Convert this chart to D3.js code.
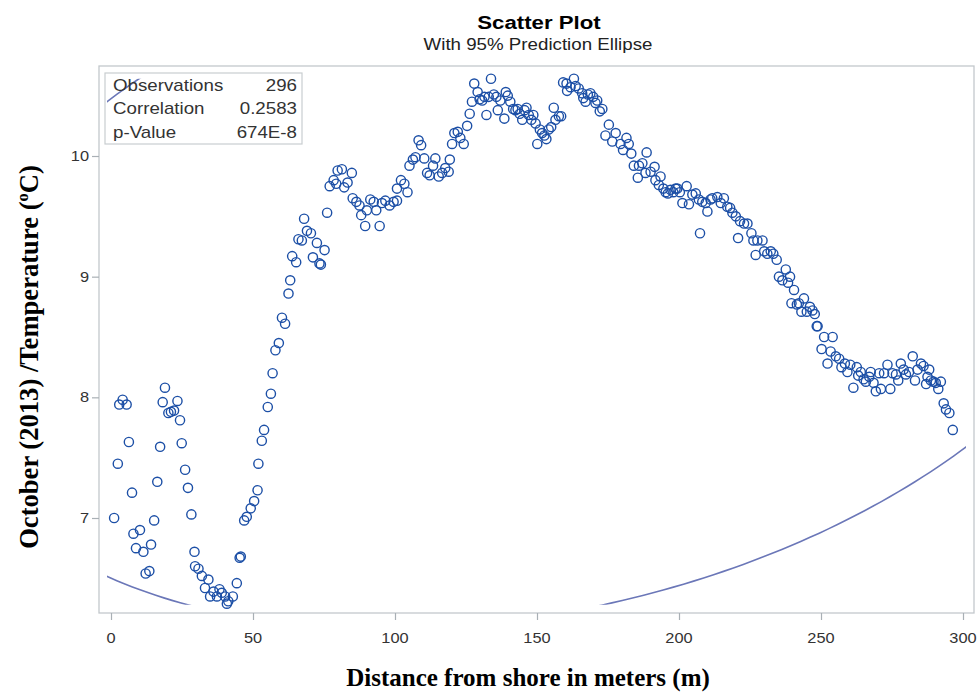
<!DOCTYPE html>
<html>
<head>
<meta charset="utf-8">
<script src="https://cdn.jsdelivr.net/npm/d3@7/dist/d3.min.js"></script>
<style>
  body { margin: 0; background: #fff; }
  text { font-family: "Liberation Sans", Arial, sans-serif; }
</style>
</head>
<body>
<svg id="chart" width="979" height="693"></svg>
<script>
// Distance from shore (m) for each observation
const distance = [
  1.1, 2.4, 2.9, 4.1, 5.5, 6.3, 7.4, 7.9, 8.8, 10.2, 11.4, 12.2, 13.5, 14.1, 15.2, 16.3, 17.3, 18.2, 19.0, 20.2,
  21.1, 22.2, 23.4, 24.3, 24.9, 26.1, 27.1, 28.3, 29.4, 29.6, 30.8, 32.0, 33.1, 34.3, 34.9, 36.1, 37.3, 38.2, 39.0, 40.2,
  40.8, 41.3, 42.9, 44.3, 45.3, 45.7, 46.9, 47.8, 49.2, 50.4, 51.6, 51.9, 53.1, 53.9, 55.2, 56.3, 56.9,
  57.9, 59.1, 60.2, 61.3, 62.5, 63.1, 63.8, 65.2, 66.0, 67.2, 68.0, 69.0, 70.4, 71.1, 72.5, 73.4, 73.9, 75.2, 76.1, 77.0,
  78.4, 79.3, 79.8, 81.3, 82.1, 83.3, 84.8, 85.1, 86.4, 87.5, 88.1, 89.5, 90.1, 91.3, 92.5, 93.4, 94.6, 95.4, 96.6, 98.1,
  99.5, 100.7, 100.7, 102.1, 103.3, 104.4, 105.1, 106.3, 107.2, 108.3, 109.2, 110.3, 111.3, 112.2, 113.4, 114.2, 115.4,
  116.6, 117.7, 118.9, 119.3, 120.1, 120.9, 122.1, 123.0, 124.2, 125.4, 126.3,
  127.1, 127.9, 129.1, 129.8, 130.7, 131.5, 132.2, 133.0, 133.8, 134.8, 135.7, 136.2, 137.1, 138.5, 139.0, 139.7, 140.6,
  141.6, 142.4, 143.2, 143.9, 144.8, 145.6, 146.3, 147.1, 148.0, 148.7, 149.5, 150.1, 151.0, 151.8, 152.6, 153.3, 154.1,
  155.0, 155.9, 156.5, 157.7, 158.5, 159.2, 160.4, 160.6, 161.8, 163.0, 163.6, 164.7, 165.9, 166.3, 167.1, 167.9, 168.8,
  169.8, 170.6, 171.2, 172.1, 173.0, 174.1, 175.3, 176.5, 177.7,
  179.4, 180.3, 181.5, 182.3, 183.2, 184.1, 185.5, 185.9, 187.1, 188.2, 188.6, 190.0, 191.4, 191.7, 192.9, 193.5, 194.5,
  195.3, 196.1, 197.0, 198.0, 198.8, 199.4, 200.3, 201.2, 202.7, 203.5, 204.7, 205.9, 207.0, 207.4, 208.2, 209.4, 210.0,
  211.1, 211.7, 213.5, 214.7, 215.8, 217.0, 218.0, 218.8, 220.0, 220.8, 221.5, 222.9, 224.1, 225.5, 226.2, 227.0, 227.6,
  229.4, 230.0, 231.1, 232.3, 233.2, 234.4, 235.2, 236.4, 237.6, 238.4, 239.1, 239.6, 240.5, 241.5,
  242.2, 243.1, 244.0, 245.0, 246.1, 247.0, 247.8, 248.5, 248.8, 250.2, 251.1, 252.3, 253.4, 254.1, 255.2, 256.4, 257.2,
  258.4, 259.3, 260.3, 261.4, 262.6, 263.1, 264.0, 265.0, 265.8, 267.0, 267.5, 268.5, 269.3, 270.5, 271.1, 272.2, 273.4,
  274.4, 275.2, 276.4, 277.2, 278.1, 279.1, 279.9, 281.0, 282.3, 283.1, 284.0, 285.2, 286.1, 287.0, 287.5, 288.1, 288.7,
  289.6, 290.4, 291.3, 292.2, 293.2, 294.0, 295.2, 296.4
];

// October 2013 temperature (°C) for each observation
const temperature = [
  7.00, 7.45, 7.94, 7.98, 7.94, 7.63, 7.21, 6.87, 6.75, 6.90, 6.72, 6.54, 6.56, 6.78, 6.98, 7.30, 7.59, 7.96, 8.08, 7.87,
  7.88, 7.89, 7.97, 7.81, 7.62, 7.40, 7.25, 7.03, 6.72, 6.60, 6.58, 6.52, 6.42, 6.49, 6.35, 6.39, 6.35, 6.41, 6.38, 6.35,
  6.29, 6.31, 6.35, 6.46, 6.67, 6.68, 6.98, 7.01, 7.08, 7.14, 7.23, 7.45, 7.64, 7.73, 7.92, 8.03, 8.20,
  8.39, 8.45, 8.66, 8.61, 8.86, 8.97, 9.17, 9.12, 9.31, 9.30, 9.48, 9.38, 9.36, 9.16, 9.28, 9.11, 9.10, 9.22, 9.53, 9.75,
  9.80, 9.77, 9.88, 9.89, 9.74, 9.78, 9.86, 9.65, 9.62, 9.59, 9.51, 9.42, 9.55, 9.64, 9.62, 9.55, 9.42, 9.61, 9.63, 9.59,
  9.62, 9.63, 9.73, 9.80, 9.77, 9.70, 9.92, 9.97, 9.99, 10.13, 10.09, 9.98, 9.86, 9.84, 9.92, 9.98, 9.83,
  9.86, 9.90, 9.87, 9.97, 10.10, 10.19, 10.20, 10.15, 10.10, 10.25, 10.35,
  10.45, 10.60, 10.53, 10.47, 10.46, 10.49, 10.34, 10.49, 10.64, 10.51, 10.49, 10.38, 10.46, 10.31, 10.53, 10.50, 10.45,
  10.39, 10.38, 10.39, 10.35, 10.30, 10.38, 10.40, 10.34, 10.30, 10.34, 10.27, 10.10, 10.22, 10.19, 10.17, 10.14, 10.22,
  10.24, 10.40, 10.30, 10.33, 10.33, 10.61, 10.60, 10.54, 10.57, 10.64, 10.58, 10.56, 10.52, 10.48, 10.45, 10.51, 10.52,
  10.49, 10.44, 10.46, 10.37, 10.39, 10.17, 10.26, 10.12, 10.19,
  10.10, 10.05, 10.15, 10.10, 10.02, 9.92, 9.82, 9.92, 9.94, 9.86, 10.03, 9.87, 9.91, 9.80, 9.76, 9.83, 9.73,
  9.70, 9.69, 9.72, 9.70, 9.73, 9.73, 9.70, 9.61, 9.75, 9.60, 9.68, 9.69, 9.64, 9.36, 9.62, 9.61, 9.54,
  9.64, 9.65, 9.66, 9.61, 9.65, 9.58, 9.57, 9.53, 9.50, 9.32, 9.46, 9.44, 9.44, 9.36, 9.30, 9.18, 9.30,
  9.30, 9.21, 9.19, 9.21, 9.19, 9.14, 9.00, 8.97, 9.06, 8.95, 9.00, 8.78, 8.89, 8.77,
  8.78, 8.71, 8.82, 8.71, 8.75, 8.72, 8.69, 8.59, 8.59, 8.40, 8.50, 8.28, 8.38, 8.50, 8.34, 8.32, 8.25,
  8.28, 8.21, 8.27, 8.08, 8.25, 8.18, 8.21, 8.15, 8.13, 8.17, 8.21, 8.12, 8.05, 8.20, 8.07, 8.20, 8.27,
  8.07, 8.20, 8.19, 8.14, 8.28, 8.23, 8.19, 8.21, 8.34, 8.14, 8.23, 8.28, 8.26, 8.11, 8.17, 8.23, 8.14,
  8.13, 8.12, 8.07, 8.13, 7.95, 7.90, 7.87, 7.73
];

const xTicks = [0, 50, 100, 150, 200, 250, 300];
const yTicks = [7, 8, 9, 10];
const statLabels = ["Observations", "Correlation", "p-Value"];
const statValues = ["296", "0.2583", "674E-8"];
const observations = 296;
const correlation = 0.2583;
const ellipseLevel = 0.95;

const svg = d3.select("#chart");
const frame = { left: 99, right: 974, top: 66, bottom: 613 };

const x = d3.scaleLinear().domain([0, 300]).range([111, 963]);
const y = d3.scaleLinear().domain([7, 10]).range([518, 156]);

// Sans text in this chart is set slightly wide
const wide = 1.17;
function wideText(g, px, py, str, size, anchor, weight, fill) {
  return g.append("text")
    .attr("transform", `translate(${px},${py}) scale(${wide},1)`)
    .attr("text-anchor", anchor)
    .style("font-size", size + "px")
    .style("font-weight", weight || "normal")
    .attr("fill", fill || "#000")
    .text(str);
}

// Titles
wideText(svg, 539, 29, "Scatter Plot", 19, "middle", "bold", "#000");
wideText(svg, 538, 50, "With 95% Prediction Ellipse", 16, "middle", "normal", "#222");

// Frame
svg.append("rect")
  .attr("x", frame.left).attr("y", frame.top)
  .attr("width", frame.right - frame.left).attr("height", frame.bottom - frame.top)
  .attr("fill", "none").attr("stroke", "#c3c8cc").attr("stroke-width", 1.3);

// X axis
const xAxis = svg.append("g").attr("transform", `translate(0,${frame.bottom})`)
  .call(d3.axisBottom(x).tickValues(xTicks).tickSize(7).tickFormat(""));
xAxis.select(".domain").remove();
xAxis.selectAll(".tick line").attr("stroke", "#a9b0b5").attr("stroke-width", 1.2);
xTicks.forEach(t => wideText(svg, x(t), 643, d3.format("d")(t), 14, "middle", "normal", "#333"));

// Y axis
const yAxis = svg.append("g").attr("transform", `translate(${frame.left},0)`)
  .call(d3.axisLeft(y).tickValues(yTicks).tickSize(7).tickFormat(""));
yAxis.select(".domain").remove();
yAxis.selectAll(".tick line").attr("stroke", "#a9b0b5").attr("stroke-width", 1.2);
yTicks.forEach(t => wideText(svg, 89, y(t) + 5, d3.format("d")(t), 14, "end", "normal", "#333"));

// Axis titles
svg.append("text")
  .attr("x", 528).attr("y", 686)
  .attr("text-anchor", "middle")
  .style("font-family", "'Liberation Serif', 'Times New Roman', serif")
  .style("font-weight", "bold").style("font-size", "25px")
  .text("Distance from shore in meters (m)");

const yTitle = svg.append("text")
  .attr("transform", "translate(38,357) rotate(-90)")
  .attr("text-anchor", "middle")
  .style("font-family", "'Liberation Serif', 'Times New Roman', serif")
  .style("font-weight", "bold").style("font-size", "26.6px");
yTitle.append("tspan").text("October (2013) /Temperature (");
yTitle.append("tspan").attr("dy", -10).style("font-size", "16.5px").text("o");
yTitle.append("tspan").attr("dy", 10).text("C)");

// The ellipse is clipped to the data area (temperature range, inset from the frame sideways)
const tExtent = d3.extent(temperature);
svg.append("clipPath").attr("id", "dataClip")
  .append("rect")
  .attr("x", frame.left + 8)
  .attr("y", y(tExtent[1]))
  .attr("width", frame.right - frame.left - 16)
  .attr("height", y(tExtent[0]) - y(tExtent[1]) + 1);

// 95% prediction ellipse from sample means, standard deviations and correlation
const n = observations;
const mx = d3.mean(distance), my = d3.mean(temperature);
const sx = d3.deviation(distance), sy = d3.deviation(temperature);
const df2 = n - 2;
const fq = (df2 / 2) * (Math.pow(1 - ellipseLevel, -2 / df2) - 1); // F(2, n-2) quantile
const c = Math.sqrt(2 * (n + 1) * (n - 1) / (n * (n - 2)) * fq);
const r = correlation;
const ellipsePts = d3.range(0, 361).map(d => {
  const t = d * Math.PI / 180;
  return [mx + c * sx * Math.cos(t),
          my + c * sy * (r * Math.cos(t) + Math.sqrt(1 - r * r) * Math.sin(t))];
});

svg.append("path")
  .datum(ellipsePts)
  .attr("clip-path", "url(#dataClip)")
  .attr("fill", "none")
  .attr("stroke", "#6b77b8")
  .attr("stroke-width", 1.6)
  .attr("d", d3.line().x(d => x(d[0])).y(d => y(d[1])));

// Observations
svg.append("g")
  .selectAll("circle")
  .data(distance.map((d, i) => [d, temperature[i]]))
  .join("circle")
  .attr("cx", d => x(d[0]))
  .attr("cy", d => y(d[1]))
  .attr("r", 4.6)
  .attr("fill", "none")
  .attr("stroke", "#1c4fa6")
  .attr("stroke-width", 1.4);

// Statistics inset
const inset = svg.append("g");
inset.append("rect")
  .attr("x", 105).attr("y", 73).attr("width", 197).attr("height", 71)
  .attr("fill", "none").attr("stroke", "#c9cdd0").attr("stroke-width", 1.2);
statLabels.forEach((lab, i) => {
  wideText(inset, 113, 90.5 + i * 23.5, lab, 16, "start", "normal", "#333");
  wideText(inset, 297, 90.5 + i * 23.5, statValues[i], 16, "end", "normal", "#333");
});
</script>
</body>
</html>
